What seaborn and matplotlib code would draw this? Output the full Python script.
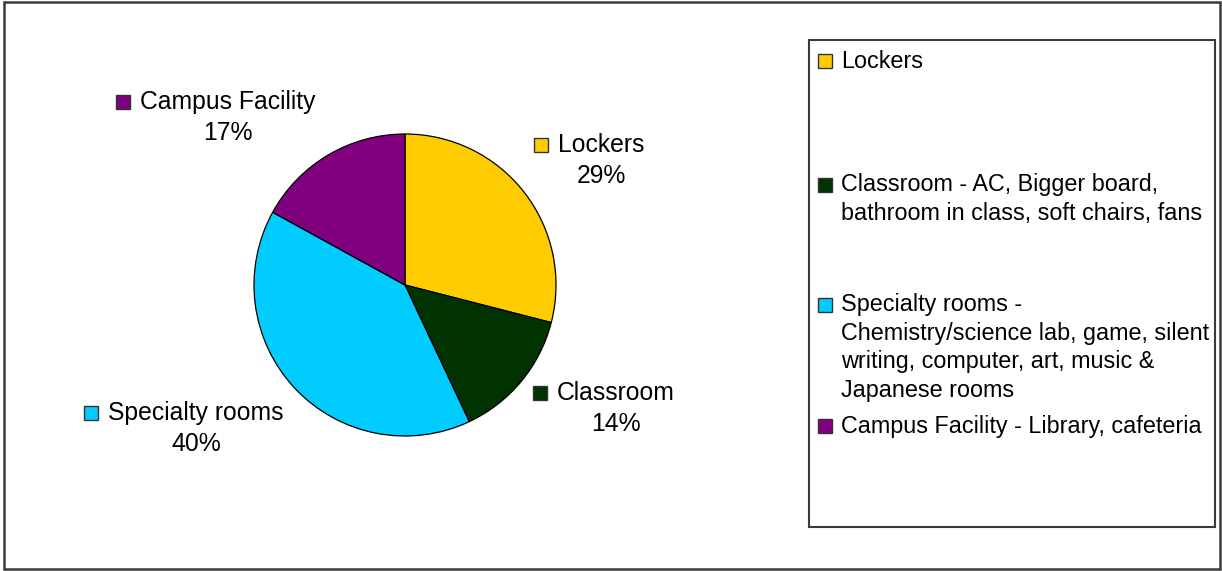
import matplotlib
matplotlib.use("Agg")
import matplotlib.pyplot as plt
from matplotlib.patches import Rectangle
from matplotlib.transforms import Affine2D
import seaborn as sns

# Survey results: most wanted improvements on campus
categories = ["Lockers", "Classroom", "Specialty rooms", "Campus Facility"]
shares = [29, 14, 40, 17]
legend_labels = [
    "Lockers",
    "Classroom - AC, Bigger board,\nbathroom in class, soft chairs, fans",
    "Specialty rooms -\nChemistry/science lab, game, silent\nwriting, computer, art, music &\nJapanese rooms",
    "Campus Facility - Library, cafeteria",
]
colors = ["#FFCC00", "#003300", "#00CCFF", "#800080"]

sns.set_style("white")
plt.rcParams["font.family"] = ["Liberation Sans", "DejaVu Sans"]

W, H = 1222, 571
fig = plt.figure(figsize=(W / 100, H / 100), dpi=100)
fig.patch.set_facecolor("white")

# pixel transform with the origin at the top-left corner
px = Affine2D().scale(1, -1).translate(0, H)

# outer frame
fig.patches.append(Rectangle((4, 2), 1216, 567, transform=px, fill=False,
                             edgecolor="#3a3a3a", linewidth=1.8))

# pie
cx, cy, r = 405, 285, 151
ax = fig.add_axes([(cx - r) / W, (H - cy - r) / H, 2 * r / W, 2 * r / H])
ax.pie(shares, colors=colors, startangle=90, counterclock=False,
       wedgeprops=dict(edgecolor="black", linewidth=0.9))
ax.set_xlim(-1, 1)
ax.set_ylim(-1, 1)
ax.axis("off")

# slice labels: (name centre x, name y, percent y)
label_pos = {
    "Lockers": (601, 145, 176),
    "Classroom": (616, 393, 424),
    "Specialty rooms": (196, 413, 444),
    "Campus Facility": (228, 102, 133),
}
renderer = fig.canvas.get_renderer()
for name, val, col in zip(categories, shares, colors):
    x, y1, y2 = label_pos[name]
    t = fig.text(x, y1, name, transform=px, ha="center", va="center",
                 fontsize=17.8, color="black")
    fig.text(x, y2, f"{val}%", transform=px, ha="center", va="center",
             fontsize=17.8, color="black")
    bb = t.get_window_extent(renderer)
    sq = 14
    fig.patches.append(Rectangle((bb.x0 - 10 - sq, y1 - sq / 2), sq, sq,
                                 transform=px, facecolor=col,
                                 edgecolor="#333333", linewidth=1.0))

# legend
fig.patches.append(Rectangle((809, 40), 406, 487, transform=px, fill=False,
                             edgecolor="#3a3a3a", linewidth=1.5))
entry_y = [61, 185, 305, 426]
step = 28.4
for lab, col, y0 in zip(legend_labels, colors, entry_y):
    sq = 14
    fig.patches.append(Rectangle((818, y0 - sq / 2), sq, sq, transform=px,
                                 facecolor=col, edgecolor="#333333",
                                 linewidth=1.0))
    for i, line in enumerate(lab.split("\n")):
        fig.text(841, y0 + i * step, line, transform=px, ha="left",
                 va="center", fontsize=16.8, color="black")

fig.savefig("out.png", dpi=100, facecolor="white")
